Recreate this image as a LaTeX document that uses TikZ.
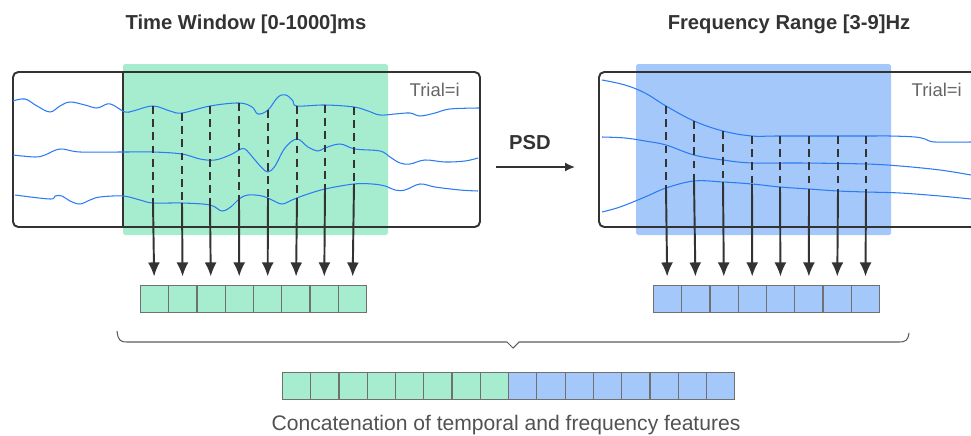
\documentclass[tikz,border=0pt]{standalone}
\usepackage{fontspec}
\setmainfont{Liberation Sans}
\usetikzlibrary{matrix,positioning,arrows.meta,calc}
\definecolor{timegreen}{HTML}{A6EDCF}
\definecolor{freqblue}{HTML}{A5C8FA}
\definecolor{wave}{HTML}{2B7BF2}
\definecolor{ink}{HTML}{333333}
\definecolor{cellline}{HTML}{707070}
\tikzset{
featmat/.style={
  matrix of nodes,
  nodes in empty cells,
  inner sep=0pt,
  outer sep=0pt,
  column sep=-\pgflinewidth,
  nodes={draw=cellline, line width=0.5pt, minimum width=0.562cm, minimum height=0.55cm, inner sep=0pt}
  },
tcell/.style={fill=timegreen},
fcell/.style={fill=freqblue},
panel/.style={draw=ink, line width=1.1pt, rounded corners=3pt},
sig/.style={wave, line width=0.6pt},
vdash/.style={ink, line width=1.1pt, dash pattern=on 4.5pt off 3pt},
down/.style={ink, line width=1.1pt, -{Latex[length=0.28cm,width=0.24cm]}, shorten >=0.18cm},
title/.style={font=\bfseries\fontsize{11.5}{14}\selectfont, text=ink},
trial/.style={font=\fontsize{10.5}{12}\selectfont, text=ink!75},
}

\begin{document}
\begin{tikzpicture}[x=0.02cm, y=-0.02cm]
  \useasboundingbox (0,0) rectangle (971,436);
  \clip (0,0) rectangle (971,436);

  \node[title] (ttitle) at (246,24) {Time Window [0-1000]ms};
  \node[title] (ftitle) at (789,24) {Frequency Range [3-9]Hz};

  % time window
  \fill[timegreen, rounded corners=1pt] (123,64) rectangle (388,235);
  \draw[panel] (13,72) rectangle (480,227);
  \draw[ink, line width=1.1pt] (123,72) -- (123,227);
  \node[trial, anchor=east] (ttrial) at (466,90) {Trial=i};

  \draw[sig] plot[smooth, tension=0.6] coordinates {(13,101) (25,99) (37,106) (50,112) (60,106) (70,102) (85,105) (97,108) (107,104) (113,105) (125,112) (133,111) (153,106) (170,111) (182,113) (210,106) (239,103) (252,107) (258,114) (268,110) (278,97) (286,95) (293,101) (297,106) (325,105) (354,107) (368,111) (380,115) (395,114) (410,113) (420,116) (435,113) (450,109) (479,108)};
  \draw[sig] plot[smooth, tension=0.6] coordinates {(13,155) (35,157) (45,155) (60,149) (80,152) (123,152) (153,152) (182,154) (200,159) (215,160) (230,155) (239,150) (245,149) (255,160) (262,168) (268,172) (275,166) (285,148) (297,139) (308,147) (318,151) (325,148) (340,144) (355,149) (380,151) (390,157) (400,163) (410,164) (425,160) (445,162) (465,161) (478,158)};
  \draw[sig] plot[smooth, tension=0.6] coordinates {(15,195) (50,199) (55,196) (62,196) (70,201) (80,204) (90,200) (100,197) (123,196) (140,200) (153,203) (182,203) (210,205) (222,211) (232,206) (239,199) (248,195) (262,196) (272,200) (282,204) (292,200) (305,195) (325,189) (354,184) (372,184) (385,186) (395,190) (405,190) (420,184) (435,187) (460,190) (478,191)};

  \matrix[featmat, anchor=north west, nodes={tcell}] at (140,285)
  (tfeat) {
     & & & & & & & \\
  };

  \draw[vdash] (153,106) -- (153,203) coordinate (tb1); \draw[down] (tb1) -- (tfeat-1-1);
  \draw[vdash] (182,113) -- (182,203) coordinate (tb2); \draw[down] (tb2) -- (tfeat-1-2);
  \draw[vdash] (210,106) -- (210,206) coordinate (tb3); \draw[down] (tb3) -- (tfeat-1-3);
  \draw[vdash] (239,103) -- (239,199) coordinate (tb4); \draw[down] (tb4) -- (tfeat-1-4);
  \draw[vdash] (268,110) -- (268,198) coordinate (tb5); \draw[down] (tb5) -- (tfeat-1-5);
  \draw[vdash] (297,106) -- (297,198) coordinate (tb6); \draw[down] (tb6) -- (tfeat-1-6);
  \draw[vdash] (325,105) -- (325,189) coordinate (tb7); \draw[down] (tb7) -- (tfeat-1-7);
  \draw[vdash] (354,107) -- (354,184) coordinate (tb8); \draw[down] (tb8) -- (tfeat-1-8);

  % PSD step
  \node[title] (psd) at (530,143) {PSD};
  \coordinate (psdin) at (496,167);
  \coordinate (psdout) at (575,167);
  \draw[ink, line width=0.9pt, -{Latex[length=0.2cm,width=0.18cm]}] (psdin) -- (psdout);

  % frequency range
  \fill[freqblue, rounded corners=1pt] (636,64) rectangle (891,235);
  \draw[panel] (599,72) rectangle (1000,227);
  \node[trial, anchor=east] (ftrial) at (968,90) {Trial=i};

  \draw[sig] plot[smooth, tension=0.6] coordinates {(602,80) (625,85) (645,93) (666,106) (694,121) (723,131) (752,136) (780,136) (866,136) (890,136) (915,137) (925,139) (935,142) (971,142)};
  \draw[sig] plot[smooth, tension=0.6] coordinates {(602,137) (625,138) (645,141) (666,145) (694,155) (723,160) (752,163) (800,163) (866,164) (900,166) (940,170) (971,175)};
  \draw[sig] plot[smooth, tension=0.6] coordinates {(602,212) (620,207) (645,197) (666,188) (694,181) (723,182) (752,184) (780,187) (809,189) (838,191) (866,192) (900,193) (940,196) (971,199)};

  \matrix[featmat, anchor=north west, nodes={fcell}] at (653,285)
  (ffeat) {
     & & & & & & & \\
  };

  \draw[vdash] (666,106) -- (666,188) coordinate (fb1); \draw[down] (fb1) -- (ffeat-1-1);
  \draw[vdash] (694,121) -- (694,181) coordinate (fb2); \draw[down] (fb2) -- (ffeat-1-2);
  \draw[vdash] (723,131) -- (723,182) coordinate (fb3); \draw[down] (fb3) -- (ffeat-1-3);
  \draw[vdash] (752,136) -- (752,184) coordinate (fb4); \draw[down] (fb4) -- (ffeat-1-4);
  \draw[vdash] (780,136) -- (780,187) coordinate (fb5); \draw[down] (fb5) -- (ffeat-1-5);
  \draw[vdash] (809,136) -- (809,189) coordinate (fb6); \draw[down] (fb6) -- (ffeat-1-6);
  \draw[vdash] (838,136) -- (838,191) coordinate (fb7); \draw[down] (fb7) -- (ffeat-1-7);
  \draw[vdash] (866,136) -- (866,192) coordinate (fb8); \draw[down] (fb8) -- (ffeat-1-8);

  % concatenation
  \draw[ink!80, line width=0.6pt] (117,331) .. controls (118,340) and (120,342) .. (127,342) -- (507,342) -- (513,348) -- (519,342) -- (899,342) .. controls (906,342) and (908,340) .. (909,333);

  \matrix[featmat, anchor=north west] at (282,372)
  (allfeat) {
    |[tcell]| & |[tcell]| & |[tcell]| & |[tcell]| & |[tcell]| & |[tcell]| & |[tcell]| & |[tcell]| &
    |[fcell]| & |[fcell]| & |[fcell]| & |[fcell]| & |[fcell]| & |[fcell]| & |[fcell]| & |[fcell]| \\
  };

  \node[font=\fontsize{12}{14}\selectfont, text=ink!85] (concat) at (506,425) {Concatenation of temporal and frequency features};

\end{tikzpicture}
\end{document}
